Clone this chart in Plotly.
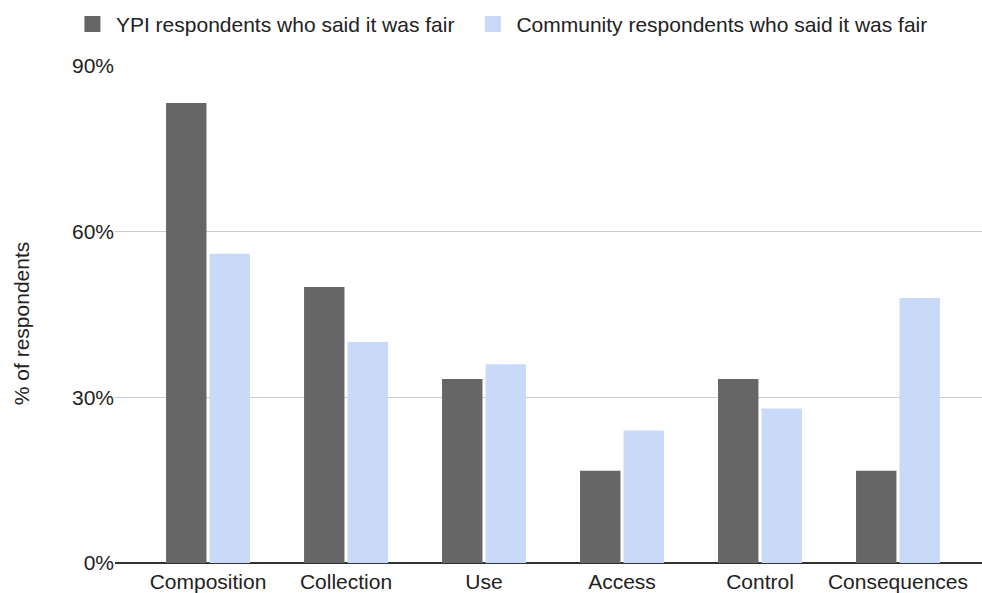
import plotly.graph_objects as go

categories = ["Composition", "Collection", "Use", "Access", "Control", "Consequences"]
ypi_values = [83.3, 50.0, 33.3, 16.7, 33.3, 16.7]
community_values = [56, 40, 36, 24, 28, 48]
series_names = ["YPI respondents who said it was fair", "Community respondents who said it was fair"]
y_ticks = [0, 30, 60, 90]
y_tick_labels = ["0%", "30%", "60%", "90%"]

FONT = "Liberation Sans, Arial, sans-serif"
DARK = "#666666"
LIGHT = "#c9daf8"
TXT = "#222222"

fig = go.Figure()
fig.add_trace(go.Bar(name=series_names[0], x=categories, y=ypi_values, showlegend=False,
                     marker=dict(color=DARK, line=dict(width=0))))
fig.add_trace(go.Bar(name=series_names[1], x=categories, y=community_values, showlegend=False,
                     marker=dict(color=LIGHT, line=dict(width=0))))
# legend entries with larger square swatches, one legend per series for exact placement
for name, col, lg in zip(series_names, [DARK, LIGHT], ["legend", "legend2"]):
    fig.add_trace(go.Scatter(name=name, x=[None], y=[None], mode="markers", legend=lg,
                             marker=dict(symbol="square", size=21, color=col, line=dict(width=0)),
                             showlegend=True))

legend_common = dict(orientation="h", xref="container", yref="container", y=0.959,
                     xanchor="left", yanchor="middle", font=dict(size=21, color=TXT),
                     itemwidth=37, itemsizing="trace", bgcolor="rgba(0,0,0,0)")

fig.update_layout(
    width=982, height=593,
    margin=dict(l=115, r=0, t=66, b=30),
    paper_bgcolor="white", plot_bgcolor="white",
    barmode="group", bargap=0.37, bargroupgap=0.07,
    font=dict(family=FONT, size=21, color=TXT),
    legend=dict(x=0.0702, **legend_common),
    legend2=dict(x=0.478, **legend_common),
    showlegend=True,
    annotations=[dict(text="% of respondents", textangle=-90, xref="paper", yref="paper",
                      x=-0.107, y=0.481, xanchor="center", yanchor="middle", showarrow=False,
                      font=dict(size=21, color=TXT))],
)
fig.update_xaxes(range=[-0.674, 5.609], showgrid=False, ticks="", showline=False,
                 tickfont=dict(size=21, color=TXT), ticklabelstandoff=4)
fig.update_yaxes(range=[0, 90], tickvals=y_ticks, ticktext=y_tick_labels, showgrid=True,
                 gridcolor="#cccccc", gridwidth=1, zeroline=True, zerolinecolor="#333333",
                 zerolinewidth=2, ticks="", ticklen=0, tickfont=dict(size=21, color=TXT))

fig.write_html("out.html")
